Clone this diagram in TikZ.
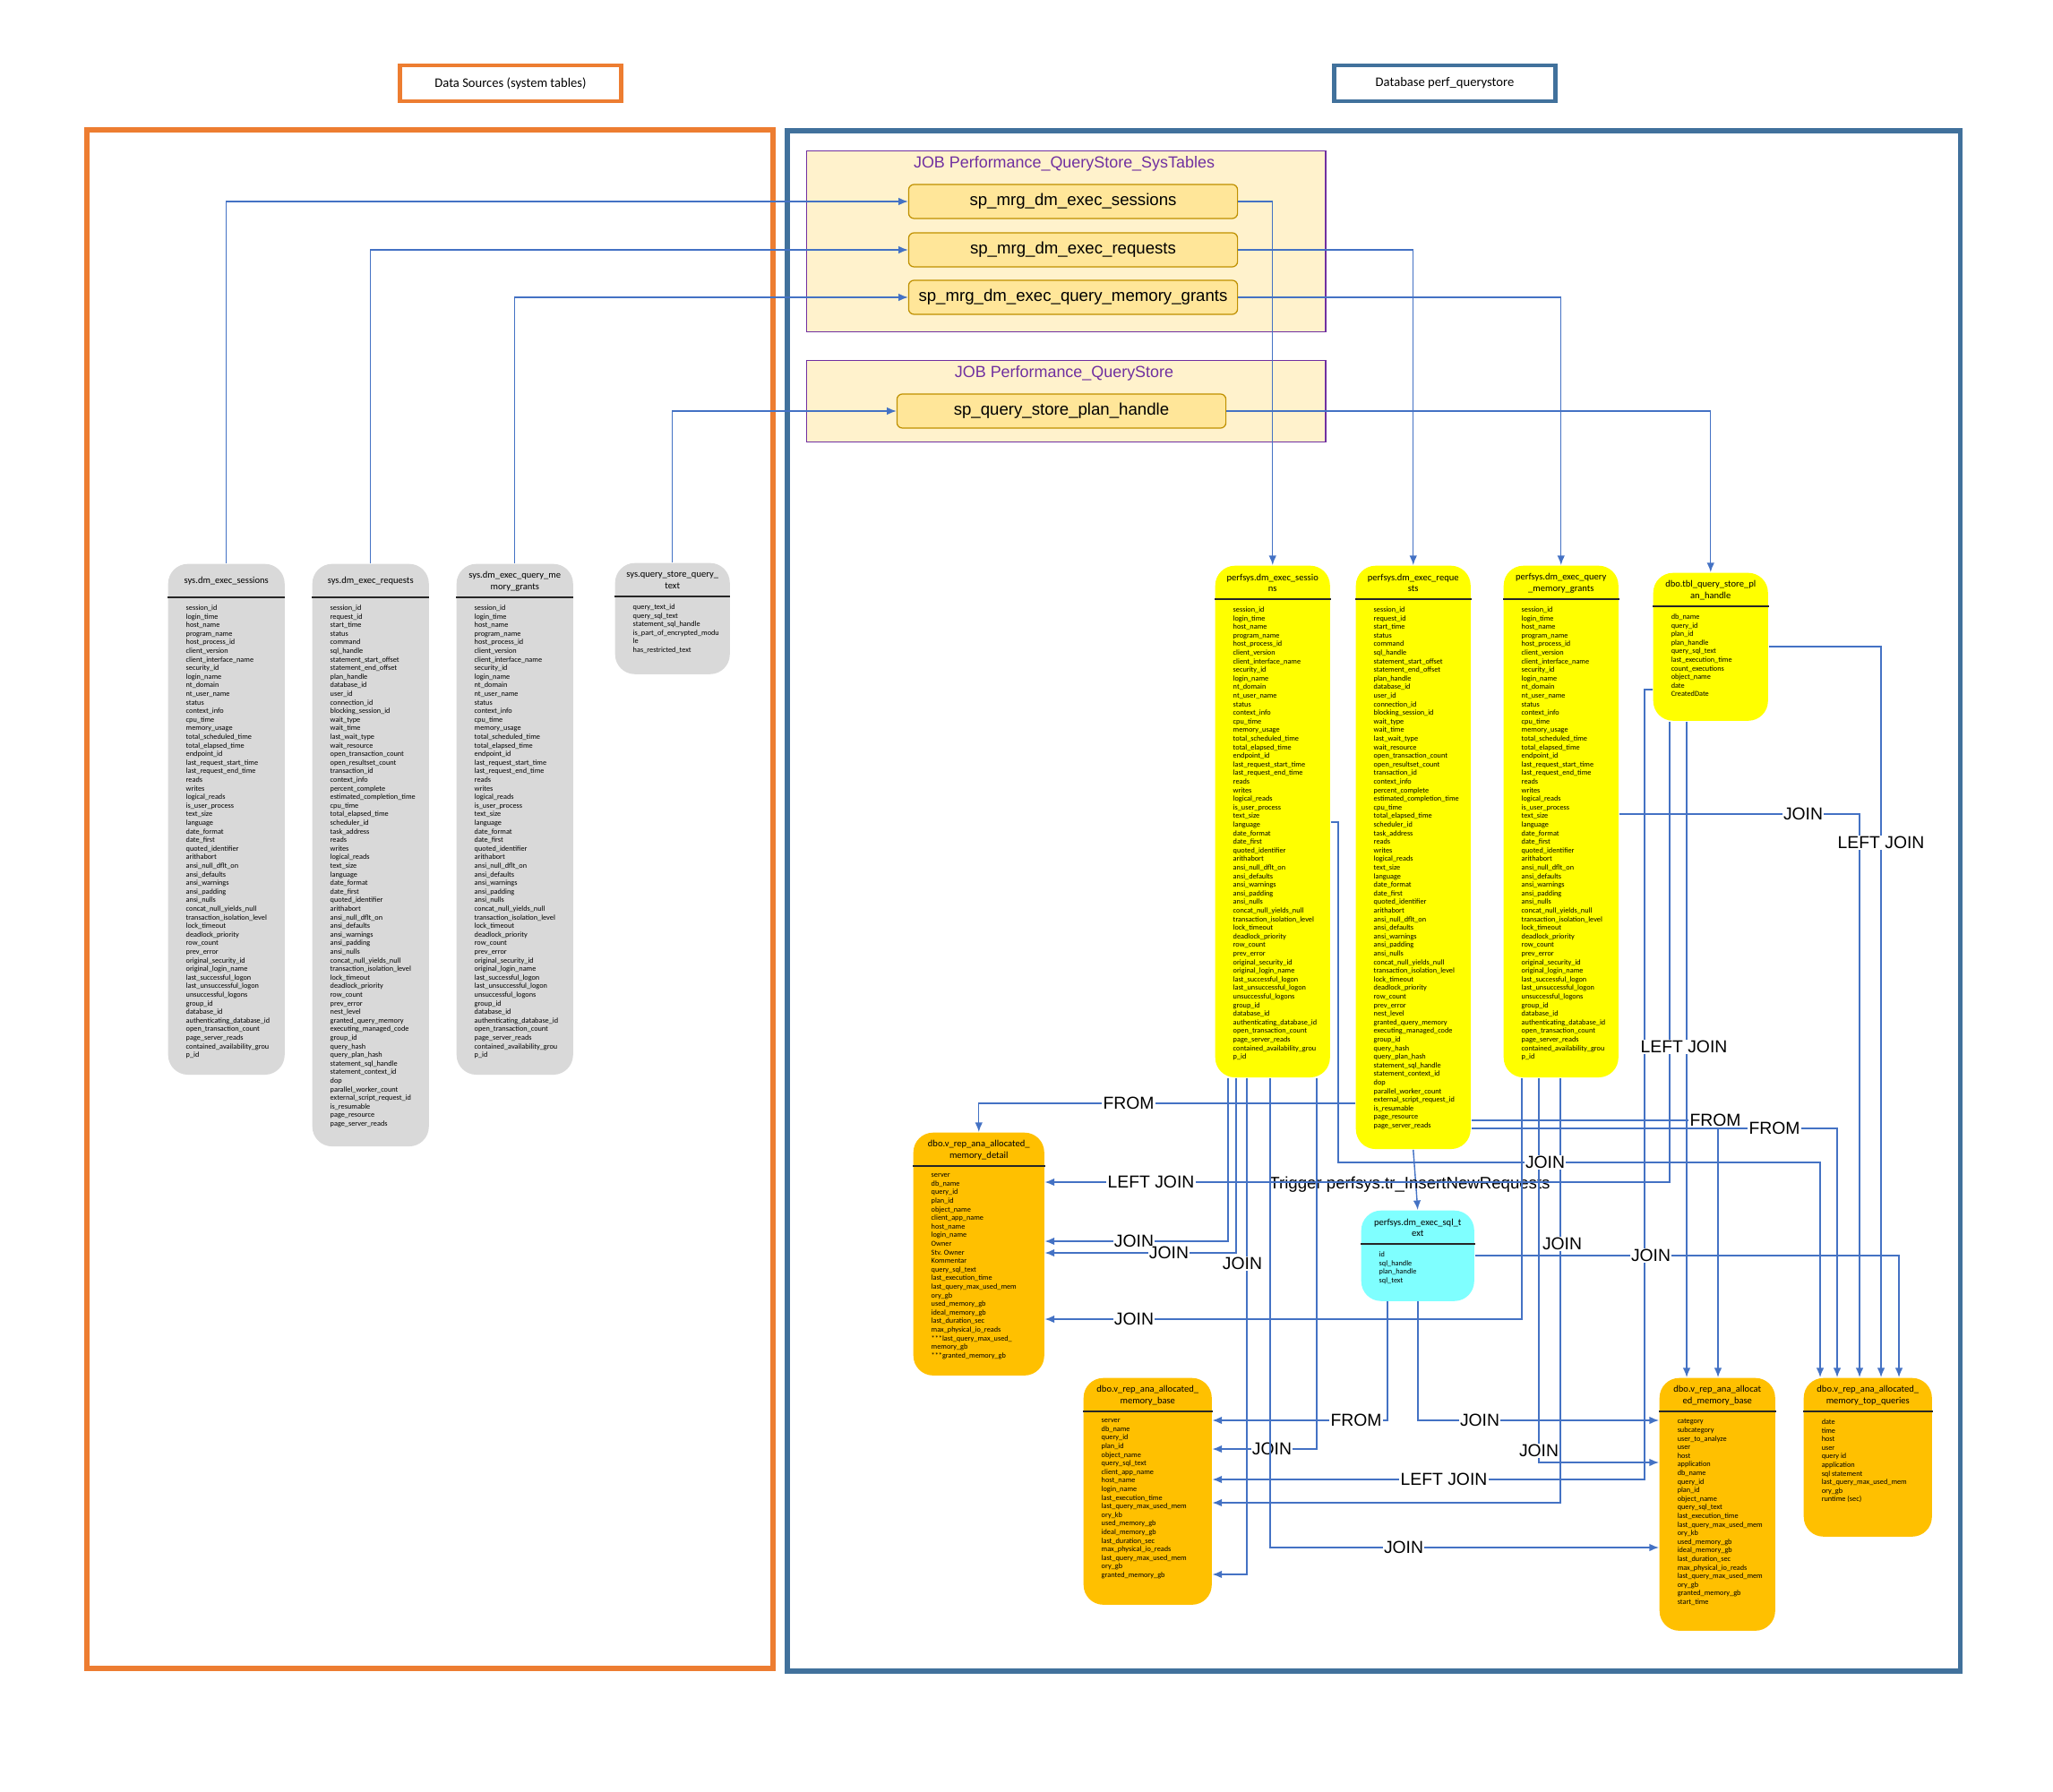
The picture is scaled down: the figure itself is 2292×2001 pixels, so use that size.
\documentclass[tikz,border=0pt]{standalone}
\usepackage{fontspec}
\setmainfont{Carlito}
\newfontfamily\arialfont{Liberation Sans}
\usetikzlibrary{arrows.meta}
\definecolor{dsorange}{HTML}{ED7D31}
\definecolor{dbblue}{HTML}{41719C}
\definecolor{jobfill}{HTML}{FFF2CC}
\definecolor{jobline}{HTML}{7030A0}
\definecolor{spfill}{HTML}{FFE699}
\definecolor{spline}{HTML}{BF9000}
\definecolor{sysgray}{HTML}{D9D9D9}
\definecolor{perfyellow}{HTML}{FFFF00}
\definecolor{viewgold}{HTML}{FFC000}
\definecolor{sqlcyan}{HTML}{7FFFFF}
\definecolor{connblue}{HTML}{4472C4}
\tikzset{
  tbl/.style={rounded corners=0.22cm, anchor=north west, inner sep=0pt},
  tbltitle/.style={font=\fontsize{3}{3.6}\selectfont, align=center, inner sep=0pt},
  tblcols/.style={font=\fontsize{2.35}{2.73}\selectfont, align=left, anchor=north west, inner sep=0pt},
  tblline/.style={draw=black!85, line width=0.4pt},
  spbox/.style={draw=spline, fill=spfill, rounded corners=0.06cm, line width=0.35pt,
    minimum width=3.67cm, minimum height=0.38cm, inner sep=0pt,
    font=\arialfont\fontsize{5.3}{6}\selectfont},
  jobbox/.style={draw=jobline, fill=jobfill, line width=0.35pt, anchor=north west,
    minimum width=5.79cm, inner sep=0pt},
  jobtitle/.style={text=jobline, font=\arialfont\fontsize{5.1}{6}\selectfont, inner sep=0pt},
  hdr/.style={line width=1.2pt, fill=white, minimum width=2.47cm, minimum height=0.4cm,
    inner sep=0pt, font=\fontsize{4.15}{4.8}\selectfont},
  area/.style={line width=1.6pt, anchor=north west, inner sep=0pt},
  conn/.style={draw=connblue, line width=0.4pt, -{Latex[length=3pt,width=2.4pt]}},
  lbl/.style={fill=white, inner sep=0.4pt, font=\arialfont\fontsize{5.5}{6}\selectfont},
  trig/.style={inner sep=0pt, font=\arialfont\fontsize{5.3}{6}\selectfont},
}
\begin{document}
\begin{tikzpicture}[x=0.01cm, y=-0.01cm]
\useasboundingbox (0,0) rectangle (2292,2001);
\newcommand\dbtab[8]{
  \node[tbl, fill=#6, minimum width=#4cm, minimum height=#5cm] (#1) at (#2,#3) {};
  \node[tbltitle] (#1t) at ([yshift=-0.2cm]#1.north) {#7};
  \draw[tblline] ([yshift=-0.38cm]#1.north west) -- ([yshift=-0.38cm]#1.north east);
  \node[tblcols] (#1c) at ([xshift=0.2cm,yshift=-0.46cm]#1.north west) {#8};
}
\newcommand\sesscols{session\_id\\login\_time\\host\_name\\program\_name\\host\_process\_id\\client\_version\\client\_interface\_name\\security\_id\\login\_name\\nt\_domain\\nt\_user\_name\\status\\context\_info\\cpu\_time\\memory\_usage\\total\_scheduled\_time\\total\_elapsed\_time\\endpoint\_id\\last\_request\_start\_time\\last\_request\_end\_time\\reads\\writes\\logical\_reads\\is\_user\_process\\text\_size\\language\\date\_format\\date\_first\\quoted\_identifier\\arithabort\\ansi\_null\_dflt\_on\\ansi\_defaults\\ansi\_warnings\\ansi\_padding\\ansi\_nulls\\concat\_null\_yields\_null\\transaction\_isolation\_level\\lock\_timeout\\deadlock\_priority\\row\_count\\prev\_error\\original\_security\_id\\original\_login\_name\\last\_successful\_logon\\last\_unsuccessful\_logon\\unsuccessful\_logons\\group\_id\\database\_id\\authenticating\_database\_id\\open\_transaction\_count\\page\_server\_reads\\contained\_availability\_grou\\p\_id}
\newcommand\reqcols{session\_id\\request\_id\\start\_time\\status\\command\\sql\_handle\\statement\_start\_offset\\statement\_end\_offset\\plan\_handle\\database\_id\\user\_id\\connection\_id\\blocking\_session\_id\\wait\_type\\wait\_time\\last\_wait\_type\\wait\_resource\\open\_transaction\_count\\open\_resultset\_count\\transaction\_id\\context\_info\\percent\_complete\\estimated\_completion\_time\\cpu\_time\\total\_elapsed\_time\\scheduler\_id\\task\_address\\reads\\writes\\logical\_reads\\text\_size\\language\\date\_format\\date\_first\\quoted\_identifier\\arithabort\\ansi\_null\_dflt\_on\\ansi\_defaults\\ansi\_warnings\\ansi\_padding\\ansi\_nulls\\concat\_null\_yields\_null\\transaction\_isolation\_level\\lock\_timeout\\deadlock\_priority\\row\_count\\prev\_error\\nest\_level\\granted\_query\_memory\\executing\_managed\_code\\group\_id\\query\_hash\\query\_plan\_hash\\statement\_sql\_handle\\statement\_context\_id\\dop\\parallel\_worker\_count\\external\_script\_request\_id\\is\_resumable\\page\_resource\\page\_server\_reads}

% areas
\node[area, draw=dsorange, minimum width=7.66cm, minimum height=17.17cm] (dsarea) at (94,142) {};
\node[area, draw=dbblue, minimum width=13.09cm, minimum height=17.19cm] (dbarea) at (876,143) {};
\node[hdr, draw=dsorange] (dshdr) at (570,93) {Data Sources (system tables)};
\node[hdr, draw=dbblue] (dbhdr) at (1613,93) {Database perf\_querystore};

% jobs
\node[jobbox, minimum height=2.02cm] (job1) at (900,168) {};
\node[jobtitle] (job1t) at (1188,183) {JOB Performance\_QueryStore\_SysTables};
\node[jobbox, minimum height=0.91cm] (job2) at (900,402) {};
\node[jobtitle] (job2t) at (1188,417) {JOB Performance\_QueryStore};
\node[spbox] (sp1) at (1198,225) {sp\_mrg\_dm\_exec\_sessions};
\node[spbox] (sp2) at (1198,279) {sp\_mrg\_dm\_exec\_requests};
\node[spbox] (sp3) at (1198,332) {sp\_mrg\_dm\_exec\_query\_memory\_grants};
\node[spbox] (sp4) at (1185,459) {sp\_query\_store\_plan\_handle};

% system tables
\dbtab{s1}{187}{629}{1.30}{5.70}{sysgray}{sys.dm\_exec\_sessions}{\sesscols}
\dbtab{s2}{348}{629}{1.30}{6.50}{sysgray}{sys.dm\_exec\_requests}{\reqcols}
\dbtab{s3}{509}{629}{1.30}{5.70}{sysgray}{sys.dm\_exec\_query\_me\\mory\_grants}{\sesscols}
\dbtab{s4}{686}{628}{1.28}{1.24}{sysgray}{sys.query\_store\_query\_\\text}{query\_text\_id\\query\_sql\_text\\statement\_sql\_handle\\is\_part\_of\_encrypted\_modu\\le\\has\_restricted\_text}

% perfsys tables
\dbtab{p1}{1356}{631}{1.28}{5.71}{perfyellow}{perfsys.dm\_exec\_sessio\\ns}{\sesscols}
\dbtab{p2}{1513}{631}{1.28}{6.51}{perfyellow}{perfsys.dm\_exec\_reque\\sts}{\reqcols}
\dbtab{p3}{1678}{631}{1.28}{5.71}{perfyellow}{perfsys.dm\_exec\_query\\\_memory\_grants}{\sesscols}
\dbtab{p4}{1845}{639}{1.28}{1.65}{perfyellow}{dbo.tbl\_query\_store\_pl\\an\_handle}{db\_name\\query\_id\\plan\_id\\plan\_handle\\query\_sql\_text\\last\_execution\_time\\count\_executions\\object\_name\\date\\CreatedDate}
\dbtab{pt}{1519}{1351}{1.26}{1.01}{sqlcyan}{perfsys.dm\_exec\_sql\_t\\ext}{id\\sql\_handle\\plan\_handle\\sql\_text}

% views
\dbtab{v1}{1019}{1264}{1.46}{2.71}{viewgold}{dbo.v\_rep\_ana\_allocated\_\\memory\_detail}{server\\db\_name\\query\_id\\plan\_id\\object\_name\\client\_app\_name\\host\_name\\login\_name\\Owner\\Stv. Owner\\Kommentar\\query\_sql\_text\\last\_execution\_time\\last\_query\_max\_used\_mem\\ory\_gb\\used\_memory\_gb\\ideal\_memory\_gb\\last\_duration\_sec\\max\_physical\_io\_reads\\***last\_query\_max\_used\_\\memory\_gb\\***granted\_memory\_gb}
\dbtab{v2}{1209}{1538}{1.43}{2.53}{viewgold}{dbo.v\_rep\_ana\_allocated\_\\memory\_base}{server\\db\_name\\query\_id\\plan\_id\\object\_name\\query\_sql\_text\\client\_app\_name\\host\_name\\login\_name\\last\_execution\_time\\last\_query\_max\_used\_mem\\ory\_kb\\used\_memory\_gb\\ideal\_memory\_gb\\last\_duration\_sec\\max\_physical\_io\_reads\\last\_query\_max\_used\_mem\\ory\_gb\\granted\_memory\_gb}
\dbtab{v3}{1852}{1538}{1.29}{2.82}{viewgold}{dbo.v\_rep\_ana\_allocat\\ed\_memory\_base}{category\\subcategory\\user\_to\_analyze\\user\\host\\application\\db\_name\\query\_id\\plan\_id\\object\_name\\query\_sql\_text\\last\_execution\_time\\last\_query\_max\_used\_mem\\ory\_kb\\used\_memory\_gb\\ideal\_memory\_gb\\last\_duration\_sec\\max\_physical\_io\_reads\\last\_query\_max\_used\_mem\\ory\_gb\\granted\_memory\_gb\\start\_time}
\dbtab{v4}{2013}{1538}{1.43}{1.77}{viewgold}{dbo.v\_rep\_ana\_allocated\_\\memory\_top\_queries}{date\\time\\host\\user\\query id\\application\\sql statement\\last\_query\_max\_used\_mem\\ory\_gb\\runtime (sec)}

% jobs fill the tables
\draw[conn] (s1.north) |- (sp1.west);
\draw[conn] (s2.north) |- (sp2.west);
\draw[conn] (s3.north) |- (sp3.west);
\draw[conn] (s4.north) |- (sp4.west);
\draw[conn] (sp1.east) -| (p1.north);
\draw[conn] (sp2.east) -| (p2.north);
\draw[conn] (sp3.east) -| (p3.north);
\draw[conn] (sp4.east) -| (p4.north);
\draw[conn] (p2.south) -- (pt.north);
\node[trig] (trg) at (1574,1323) {Trigger perfsys.tr\_InsertNewRequests};

% views
\draw[conn] (p2.west |- 0,1232) -| (v1.north);
\node[lbl] (l1) at (1260,1232) {FROM};
\draw[conn] (p4.south -| 1864,0) |- (v1.east |- 0,1320);
\node[lbl] (l2) at (1285,1320) {LEFT JOIN};
\draw[conn] (p1.south -| 1371,0) |- (v1.east |- 0,1386);
\node[lbl] (l3) at (1266,1386) {JOIN};
\draw[conn] (p1.south -| 1380,0) |- (v1.east |- 0,1399);
\node[lbl] (l4) at (1305,1399) {JOIN};
\draw[conn] (p3.south -| 1699,0) |- (v1.east |- 0,1473);
\node[lbl] (l5) at (1266,1473) {JOIN};
\draw[conn] (pt.south -| 1549,0) |- (v2.east |- 0,1586);
\node[lbl] (l6) at (1514,1586) {FROM};
\draw[conn] (p1.south -| 1470,0) |- (v2.east |- 0,1618);
\node[lbl] (l7) at (1420,1618) {JOIN};
\draw[conn] (p4.west |- 0,770) -- (1836,770) -- (1836,1652) -- (v2.east |- 0,1652);
\node[lbl] (l8) at (1612,1652) {LEFT JOIN};
\draw[conn] (p3.south -| 1742,0) |- (v2.east |- 0,1678);
\node[lbl] (l9) at (1744,1389) {JOIN};
\draw[conn] (p1.south -| 1392,0) |- (v2.east |- 0,1758);
\node[lbl] (l10) at (1387,1411) {JOIN};
\draw[conn] (pt.south -| 1583,0) |- (v3.west |- 0,1586);
\node[lbl] (l11) at (1652,1586) {JOIN};
\draw[conn] (p3.south -| 1718,0) |- (v3.west |- 0,1633);
\node[lbl] (l12) at (1718,1620) {JOIN};
\draw[conn] (p1.south -| 1418,0) |- (v3.west |- 0,1728);
\node[lbl] (l13) at (1567,1728) {JOIN};
\draw[conn] (p4.south -| 1883,0) -- (v3.north -| 1883,0);
\node[lbl] (l14) at (1880,1169) {LEFT JOIN};
\draw[conn] (p2.east |- 0,1251) -| (v3.north -| 1918,0);
\node[lbl] (l15) at (1915,1251) {FROM};
\draw[conn] (p2.east |- 0,1260) -| (v4.north -| 2051,0);
\node[lbl] (l16) at (1981,1260) {FROM};
\draw[conn] (p1.east |- 0,918) -- (1494,918) -- (1494,1298) -- (2032,1298) -- (v4.north -| 2032,0);
\node[lbl] (l17) at (1725,1298) {JOIN};
\draw[conn] (p3.east |- 0,909) -| (v4.north -| 2076,0);
\node[lbl] (l18) at (2013,909) {JOIN};
\draw[conn] (p4.east |- 0,722) -| (v4.north -| 2100,0);
\node[lbl] (l19) at (2100,941) {LEFT JOIN};
\draw[conn] (pt.east |- 0,1402) -| (v4.north -| 2120,0);
\node[lbl] (l20) at (1843,1402) {JOIN};
\end{tikzpicture}
\end{document}
